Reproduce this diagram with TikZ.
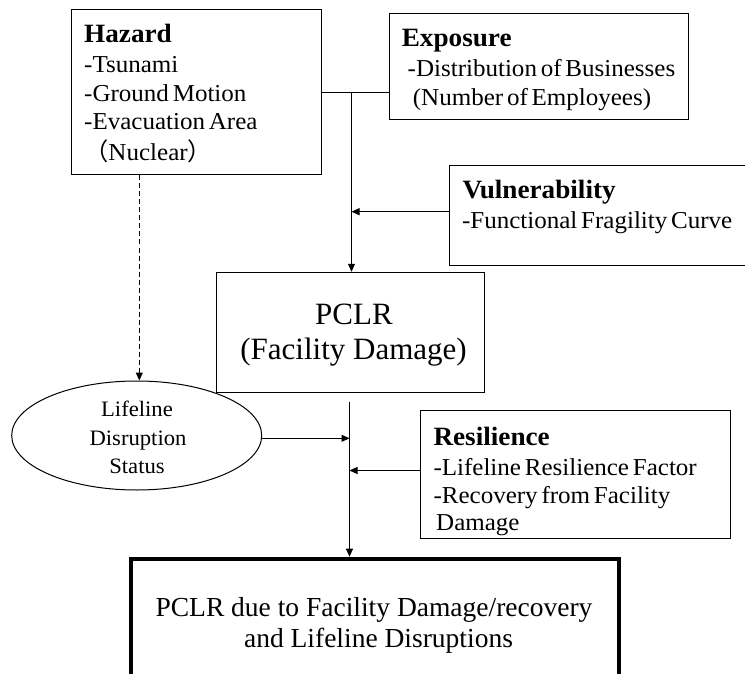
\documentclass[tikz,border=0pt]{standalone}
\usepackage{fontspec}
\setmainfont{Liberation Serif}
\newfontfamily\tight{Liberation Serif}[FakeStretch=1.03, WordSpace=0.6]
\newfontfamily\cjk{Noto Sans CJK JP}
\usetikzlibrary{arrows.meta,shapes.geometric}
\tikzset{
  box/.style={draw, line width=1pt, inner sep=0pt, rectangle},
  body/.style={anchor=base west, inner sep=0pt, font=\tight\fontsize{24.3}{28}\selectfont},
  head/.style={anchor=base west, inner sep=0pt, font=\tight\bfseries\fontsize{26.4}{30}\selectfont},
  ell/.style={anchor=base, inner sep=0pt, font=\tight\fontsize{22}{26}\selectfont},
  big/.style={anchor=base, inner sep=0pt, font=\fontsize{31}{34}\selectfont},
  fin/.style={anchor=base, inner sep=0pt, font=\fontsize{27.5}{32}\selectfont},
  conn/.style={line width=1pt},
  arr/.style={line width=1pt, -{Triangle[length=8pt,width=7pt]}},
  dasharr/.style={arr, dash pattern=on 5pt off 3pt}
}
\begin{document}
\begin{tikzpicture}[x=1pt,y=-1pt]
\useasboundingbox (0,0) rectangle (745,674);
\clip (0,0) rectangle (745,674);
\fill[white] (0,0) rectangle (745,674);

% boxes
\node[box, minimum width=249.3, minimum height=165.7] (hazard) at (196.35,92.15) {};
\node[box, minimum width=299.3, minimum height=105.3] (exposure) at (538.65,66.65) {};
\node[box, minimum width=310.4, minimum height=100] (vuln) at (604.8,215.7) {};
\node[box, minimum width=268, minimum height=120.4] (pclr) at (350,332.5) {};
\node[draw, line width=1pt, ellipse, inner sep=0pt, minimum width=250, minimum height=109] (life) at (136.7,435.5) {};
\node[box, minimum width=309.3, minimum height=128.3] (resil) at (575.35,474.15) {};
\node[box, line width=4pt, minimum width=487.4, minimum height=151.3] (final) at (375,634.35) {};

% texts
\node[head] (hz0) at (84,43) {Hazard};
\node[body] (hz1) at (84,73) {-Tsunami};
\node[body] (hz2) at (84,102) {-Ground Motion};
\node[body] (hz3) at (84,130) {-Evacuation Area};
\node[body] (hz4) at (84,161) {{\cjk （}Nuclear{\cjk ）}};

\node[head] (ex0) at (401.6,46.7) {Exposure};
\node[body] (ex1) at (407.5,76.7) {-Distribution of Businesses};
\node[body] (ex2) at (412.7,106) {(Number of Employees)};

\node[head] (vu0) at (462.4,199) {Vulnerability};
\node[body] (vu1) at (461.8,229) {-Functional Fragility Curve};

\node[big] (pc0) at (354,324) {PCLR};
\node[big] (pc1) at (353.5,359.3) {(Facility Damage)};

\node[ell] (li0) at (137,416.7) {Lifeline};
\node[ell] (li1) at (138,445) {Disruption};
\node[ell] (li2) at (137,473) {Status};

\node[head] (re0) at (433.3,445) {Resilience};
\node[body] (re1) at (433.3,475) {-Lifeline Resilience Factor};
\node[body] (re2) at (433.3,503) {-Recovery from Facility};
\node[body] (re3) at (436,530) {Damage};

\node[fin] (fi0) at (374,616) {PCLR due to Facility Damage/recovery};
\node[fin] (fi1) at (378.5,647.3) {and Lifeline Disruptions};

% junctions
\coordinate (j1) at (351.5,92.7);
\coordinate (j2) at (351.5,211.7);
\coordinate (j3) at (349.5,401.7);
\coordinate (j4) at (349.5,438.3);
\coordinate (j5) at (349.5,470.5);
\coordinate (d0) at (139.3,175);

% connectors
\draw[conn] (hazard.east |- j1) -- (exposure.west |- j1);
\draw[arr] (j1) -- (j1 |- pclr.north);
\draw[arr] (vuln.west |- j2) -- (j2);
\draw[dasharr] (hazard.south -| d0) -- (d0 |- life.north);
\draw[arr] (j3) -- (j3 |- final.north);
\draw[arr] (life.east |- j4) -- (j4);
\draw[arr] (resil.west |- j5) -- (j5);
\end{tikzpicture}
\end{document}
